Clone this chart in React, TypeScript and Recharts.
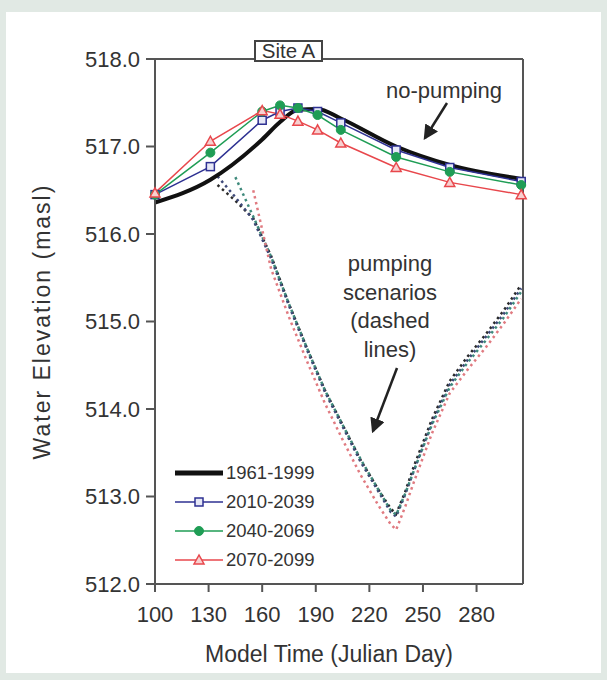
import { LineChart, Line, XAxis, YAxis, Legend, ReferenceLine } from 'recharts'

// no-pumping runs, sampled at the marker days
const DAYS = [100, 131, 160, 170, 180, 191, 204, 235, 265, 305]
const BASE_1961 = [516.36, 516.62, 517.08, 517.28, 517.42, 517.43, 517.32, 517.0, 516.79, 516.63]
const BASE_2010 = [516.45, 516.77, 517.30, 517.40, 517.44, 517.40, 517.27, 516.96, 516.76, 516.60]
const BASE_2040 = [516.45, 516.93, 517.40, 517.47, 517.44, 517.36, 517.19, 516.88, 516.71, 516.56]
const BASE_2070 = [516.47, 517.06, 517.41, 517.37, 517.29, 517.19, 517.04, 516.76, 516.59, 516.45]

// pumping scenarios (dashed)
const PUMP_DAYS = [135, 145, 155, 165, 175, 185, 195, 205, 215, 225, 232, 235, 240, 245, 255, 265, 275, 285, 295, 305]
const PUMP_1961 = [516.56, 516.38, 516.18, 515.75, 515.2, 514.7, 514.22, 513.82, 513.42, 513.08, 512.86, 512.8, 513.05, 513.35, 513.88, 514.32, 514.6, 514.85, 515.12, 515.42]
const PUMP_2010 = [516.66, 516.42, 516.16, 515.72, 515.18, 514.68, 514.2, 513.8, 513.4, 513.06, 512.82, 512.77, 513.02, 513.3, 513.84, 514.28, 514.56, 514.82, 515.08, 515.38]
const PUMP_2040 = [null, 516.65, 516.2, 515.74, 515.2, 514.7, 514.22, 513.82, 513.43, 513.08, 512.84, 512.79, 513.03, 513.3, 513.82, 514.25, 514.53, 514.78, 515.04, 515.34]
const PUMP_2070 = [null, null, 516.5, 515.6, 515.05, 514.55, 514.07, 513.65, 513.25, 512.9, 512.68, 512.62, 512.88, 513.17, 513.72, 514.18, 514.45, 514.7, 514.97, 515.26]

const X_TICKS = [100, 130, 160, 190, 220, 250, 280]
const Y_TICKS = [512, 513, 514, 515, 516, 517, 518]
const PERIODS = ['1961-1999', '2010-2039', '2040-2069', '2070-2099']

const FONT = '"Liberation Sans", Arial, Helvetica, sans-serif'
const TXT = '#333'
const AXIS = '#555'

const COLORS = {
  black: '#111111',
  blue: '#2e3192',
  green: '#1f9d55',
  red: '#e8474c',
}

function toPoints(days: number[], vals: (number | null)[]) {
  return days.map((d, i) => ({ day: d, v: vals[i] }))
}

const Square = (props: any) => {
  const { cx, cy } = props
  if (cx == null || cy == null) return null
  return <rect x={cx - 4} y={cy - 4} width={8} height={8} fill="#e6e8f6" stroke={COLORS.blue} strokeWidth={1.5} />
}

const Circle = (props: any) => {
  const { cx, cy } = props
  if (cx == null || cy == null) return null
  return <circle cx={cx} cy={cy} r={4.5} fill={COLORS.green} stroke={COLORS.green} />
}

const Triangle = (props: any) => {
  const { cx, cy } = props
  if (cx == null || cy == null) return null
  return (
    <polygon
      points={`${cx},${cy - 5} ${cx - 5},${cy + 4} ${cx + 5},${cy + 4}`}
      fill="#f7d0d0"
      stroke={COLORS.red}
      strokeWidth={1.5}
    />
  )
}

function LegendKey({ idx }: { idx: number }) {
  if (idx === 0) {
    return (
      <svg width={48} height={14}>
        <line x1={0} y1={7} x2={48} y2={7} stroke={COLORS.black} strokeWidth={5} />
      </svg>
    )
  }
  const color = idx === 1 ? COLORS.blue : idx === 2 ? COLORS.green : COLORS.red
  return (
    <svg width={48} height={14}>
      <line x1={0} y1={7} x2={48} y2={7} stroke={color} strokeWidth={1.5} />
      {idx === 1 && <Square cx={24} cy={7} />}
      {idx === 2 && <Circle cx={24} cy={7} />}
      {idx === 3 && <Triangle cx={24} cy={7} />}
    </svg>
  )
}

const renderLegend = () => (
  <div style={{ fontFamily: FONT, fontSize: 18.5, color: TXT }}>
    {PERIODS.map((p, i) => (
      <div key={p} style={{ display: 'flex', alignItems: 'center', height: 29 }}>
        <LegendKey idx={i} />
        <span style={{ marginLeft: 3 }}>{p}</span>
      </div>
    ))}
  </div>
)

export default function App() {
  const tick = { fontSize: 22, fill: TXT, fontFamily: FONT }
  return (
    <div style={{ position: 'absolute', left: 0, top: 0, width: 607, height: 680, background: '#e1e9e4', fontFamily: FONT }}>
      <div style={{ position: 'absolute', left: 6, top: 12, width: 595, height: 661, background: '#fff' }} />
      <div style={{ position: 'absolute', left: 0, top: 0 }}>
        <LineChart width={607} height={680} margin={{ top: 59, right: 84, bottom: 18, left: 35 }}>
          <XAxis
            dataKey="day"
            type="number"
            domain={[100, 306]}
            ticks={X_TICKS}
            allowDuplicatedCategory={false}
            tick={tick}
            tickSize={8}
            tickMargin={14}
            height={78}
            stroke={AXIS}
            strokeWidth={2}
            label={{ value: 'Model Time (Julian Day)', position: 'insideBottom', offset: 0, dx: -10, fontSize: 23, fill: TXT, fontFamily: FONT }}
          />
          <YAxis
            type="number"
            domain={[512, 518]}
            ticks={Y_TICKS}
            tickFormatter={(v: number) => v.toFixed(1)}
            tick={tick}
            tickSize={9}
            tickMargin={6}
            width={120}
            stroke={AXIS}
            strokeWidth={2}
            label={{ value: 'Water  Elevation (masl)', angle: -90, position: 'insideLeft', offset: 7, fontSize: 23, fill: TXT, fontFamily: FONT, style: { textAnchor: 'middle', letterSpacing: 2 } }}
          />
          <ReferenceLine y={518} stroke={AXIS} strokeWidth={2} />
          <ReferenceLine x={306} stroke={AXIS} strokeWidth={2} />

          <Line data={toPoints(PUMP_DAYS, PUMP_1961)} dataKey="v" stroke="#2b2b2b" strokeWidth={2.5} strokeDasharray="2.5 3.5" dot={false} isAnimationActive={false} legendType="none" />
          <Line data={toPoints(PUMP_DAYS, PUMP_2010)} dataKey="v" stroke="#3d4878" strokeWidth={2.5} strokeDasharray="2.5 3.5" dot={false} isAnimationActive={false} legendType="none" />
          <Line data={toPoints(PUMP_DAYS, PUMP_2040)} dataKey="v" stroke="#3f8a7c" strokeWidth={2.5} strokeDasharray="2.5 3.5" dot={false} isAnimationActive={false} legendType="none" />
          <Line data={toPoints(PUMP_DAYS, PUMP_2070)} dataKey="v" stroke="#e07a80" strokeWidth={2.5} strokeDasharray="2.5 3.5" dot={false} isAnimationActive={false} legendType="none" />

          <Line data={toPoints(DAYS, BASE_1961)} dataKey="v" name={PERIODS[0]} type="monotone" stroke={COLORS.black} strokeWidth={4} dot={false} isAnimationActive={false} />
          <Line data={toPoints(DAYS, BASE_2010)} dataKey="v" name={PERIODS[1]} stroke={COLORS.blue} strokeWidth={1.5} dot={<Square />} isAnimationActive={false} />
          <Line data={toPoints(DAYS, BASE_2040)} dataKey="v" name={PERIODS[2]} stroke={COLORS.green} strokeWidth={1.5} dot={<Circle />} isAnimationActive={false} />
          <Line data={toPoints(DAYS, BASE_2070)} dataKey="v" name={PERIODS[3]} stroke={COLORS.red} strokeWidth={1.5} dot={<Triangle />} isAnimationActive={false} />

          <Legend
            layout="vertical"
            align="center"
            verticalAlign="middle"
            content={renderLegend}
            wrapperStyle={{ left: 175, top: 458, width: 'auto', height: 'auto' }}
          />
        </LineChart>
      </div>

      {/* annotations */}
      <div style={{ position: 'absolute', left: 254, top: 40, width: 69, height: 22, border: '2px solid #444', boxSizing: 'border-box', background: '#fff', fontSize: 20.5, lineHeight: '18px', textAlign: 'center', color: TXT }}>
        Site A
      </div>
      <div style={{ position: 'absolute', left: 374, top: 78, width: 140, textAlign: 'center', fontSize: 22, color: TXT }}>
        no-pumping
      </div>
      <div style={{ position: 'absolute', left: 330, top: 250, width: 120, textAlign: 'center', fontSize: 22, lineHeight: '28.5px', color: TXT }}>
        pumping<br />scenarios<br />(dashed<br />lines)
      </div>
      <svg width={607} height={680} style={{ position: 'absolute', left: 0, top: 0, pointerEvents: 'none' }}>
        <defs>
          <marker id="head" markerWidth="6" markerHeight="6" refX="5" refY="3" orient="auto" markerUnits="strokeWidth">
            <path d="M0,0 L6,3 L0,6 z" fill="#222" />
          </marker>
        </defs>
        <line x1={447} y1={103} x2={425} y2={138} stroke="#222" strokeWidth={2.5} markerEnd="url(#head)" />
        <line x1={397} y1={368} x2={373} y2={431} stroke="#222" strokeWidth={2.5} markerEnd="url(#head)" />
      </svg>
    </div>
  )
}
